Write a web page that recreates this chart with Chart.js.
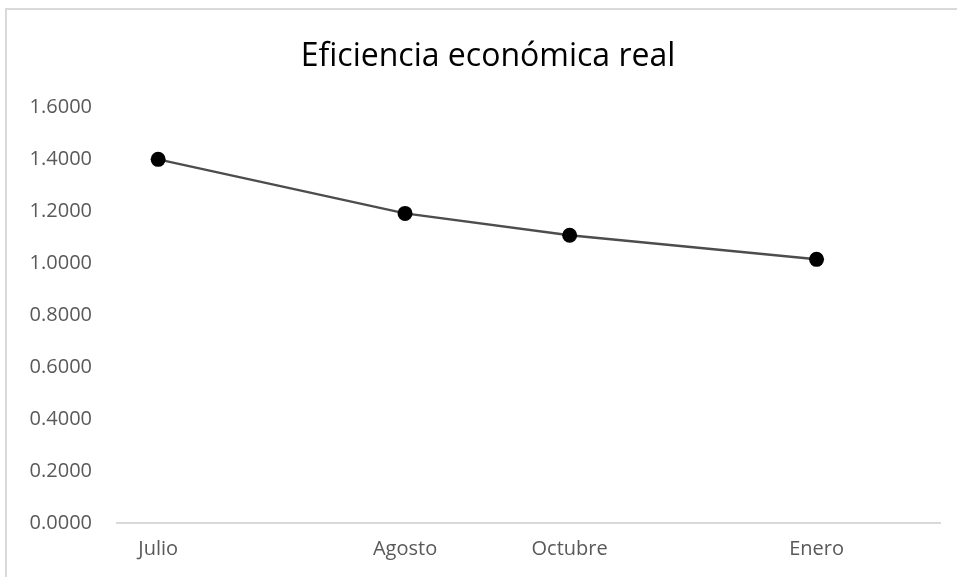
<!DOCTYPE html>
<html>
<head>
<meta charset="utf-8">
<script src="https://cdn.jsdelivr.net/npm/chart.js@4/dist/chart.umd.min.js"></script>
<style>
  html,body{margin:0;padding:0;background:#fff;overflow:hidden;}
  #frame{position:absolute;left:5px;top:8px;width:1000px;height:620px;border:2px solid #d9d9d9;box-sizing:border-box;}
  #wrap{position:absolute;left:0;top:0;width:957px;height:577px;}
</style>
</head>
<body>
<div id="frame"></div>
<div id="wrap"><canvas id="chart"></canvas></div>
<script>
// Eficiencia económica real por mes
var meses=['Julio','Agosto','Octubre','Enero'];
var posiciones=[1,7,11,17];
var eficiencia=[1.4000,1.1920,1.1080,1.0150];
var yTicks=[0,0.2,0.4,0.6,0.8,1.0,1.2,1.4,1.6];

var FONT="'Open Sans', sans-serif";
var puntos=posiciones.map(function(x,i){return {x:x,y:eficiencia[i]};});

// title sits a little right of the canvas centre
var titleShift={id:'titleShift',afterLayout:function(c){
  if(c.titleBlock){c.titleBlock.left+=18;c.titleBlock.right+=18;}
}};

new Chart(document.getElementById('chart'),{
  type:'line',
  data:{datasets:[{
    label:'Eficiencia',
    data:puntos,
    borderColor:'#4d4d4d',
    borderWidth:2.5,
    pointRadius:7.5,
    pointBackgroundColor:'#000',
    pointBorderColor:'#000',
    pointBorderWidth:0,
    tension:0,
    fill:false
  }]},
  options:{
    responsive:true,maintainAspectRatio:false,animation:false,
    layout:{padding:{top:0,right:17,bottom:0,left:0}},
    plugins:{
      legend:{display:false},
      tooltip:{enabled:false},
      title:{display:true,text:'Eficiencia económica real',color:'#000',
        font:{family:FONT,size:32,weight:'normal'},padding:{top:38,bottom:31}}
    },
    scales:{
      x:{type:'linear',min:0,max:20,
        afterBuildTicks:function(s){s.ticks=posiciones.map(function(v){return {value:v};});},
        afterFit:function(s){s.height=54;},
        ticks:{color:'#595959',font:{family:FONT,size:20},padding:14,maxRotation:0,autoSkip:false,
          callback:function(v){var i=posiciones.indexOf(v);return i<0?'':meses[i];}},
        grid:{display:false,drawTicks:false},
        border:{display:true,color:'#d9d9d9',width:2}
      },
      y:{min:0,max:1.6,
        afterBuildTicks:function(s){s.ticks=yTicks.map(function(v){return {value:v};});},
        afterFit:function(s){s.width=117;},
        ticks:{color:'#595959',font:{family:FONT,size:20},padding:25,
          callback:function(v){return Number(v).toFixed(4);}},
        grid:{display:false,drawTicks:false},
        border:{display:false}
      }
    }
  },
  plugins:[titleShift]
});
</script>
</body>
</html>
